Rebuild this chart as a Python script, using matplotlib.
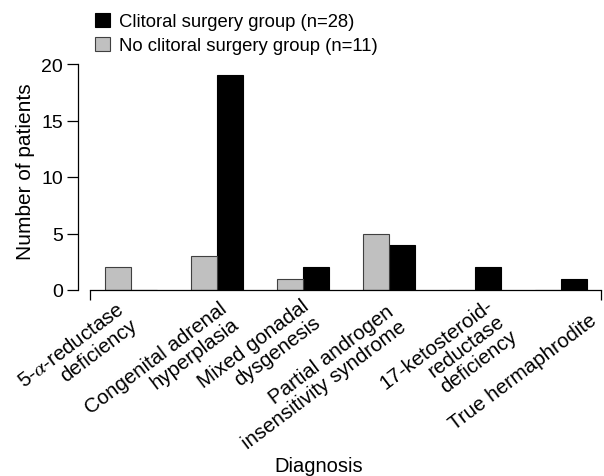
import matplotlib
matplotlib.use('Agg')
import matplotlib.pyplot as plt
import matplotlib.transforms as mtransforms
import numpy as np

plt.rcParams['font.family'] = ['Liberation Sans', 'DejaVu Sans']
plt.rcParams['mathtext.fontset'] = 'stix'

# data
diagnoses = [r'5-$\alpha$-reductase' + '\ndeficiency',
             'Congenital adrenal\nhyperplasia',
             'Mixed gonadal\ndysgenesis',
             'Partial androgen\ninsensitivity syndrome',
             '17-ketosteroid-\nreductase\ndeficiency',
             'True hermaphrodite']
no_surgery = [2, 3, 1, 5, 0, 0]
surgery = [0, 19, 2, 4, 2, 1]
series_labels = ['Clitoral surgery group (n=28)', 'No clitoral surgery group (n=11)']

# label nudges in pixels (manual layout of the rotated labels)
label_dx = [-14, 2, -2, -3, 10, 28]
label_dy = [-9, -8, -6, -11, -5, -20]

fs = 13.3
fs_tick = 14.8
w = 0.3
x = np.arange(len(diagnoses))

fig = plt.figure(figsize=(6.04, 4.77), dpi=100)
ax = fig.add_axes([90/604, 1-291/477, 511/604, 226/477])

b_black = ax.bar(x + w/2, surgery, w, color='black', edgecolor='black', lw=0.8)
b_gray = ax.bar(x - w/2, no_surgery, w, color='#c0c0c0', edgecolor='#404040', lw=0.8)

ax.set_xlim(-0.477, len(diagnoses) - 1 + 0.465)
ax.set_ylim(0, 20)
ax.set_yticks([0, 5, 10, 15, 20])

for s in ['top', 'right']:
    ax.spines[s].set_visible(False)
ax.spines['left'].set_position(('outward', 8.6))
ax.spines['left'].set_linewidth(0.9)
ax.spines['bottom'].set_linewidth(0.9)

ax.tick_params(axis='y', length=8, width=0.9, pad=3, labelsize=14)
ax.set_xticks(x)
ax.set_xticklabels(diagnoses, rotation=37, ha='right', va='top',
                   rotation_mode='anchor', multialignment='right',
                   linespacing=1.05, fontsize=fs_tick)
ax.tick_params(axis='x', length=0, pad=0)
# end caps on the x axis line
ax.set_xticks(ax.get_xlim(), minor=True)
ax.tick_params(axis='x', which='minor', length=7, width=0.9, direction='out')

for lab, dx, dy in zip(ax.get_xticklabels(), label_dx, label_dy):
    off = mtransforms.ScaledTranslation(dx/100, dy/100, fig.dpi_scale_trans)
    lab.set_transform(lab.get_transform() + off)

ax.set_ylabel('Number of patients', fontsize=15)
ax.yaxis.set_label_coords(-0.108, 0.529)
ax.set_xlabel('Diagnosis', fontsize=14.5)
ax.xaxis.set_label_coords(0.448, -0.735)

fig.legend([b_black, b_gray], series_labels, loc='upper left',
           bbox_to_anchor=(95/604, 1-14/477), frameon=False, fontsize=fs,
           handlelength=0.8, handleheight=0.8, handletextpad=0.5,
           labelspacing=0.35, borderpad=0, borderaxespad=0)

fig.savefig('out.png', dpi=100)
